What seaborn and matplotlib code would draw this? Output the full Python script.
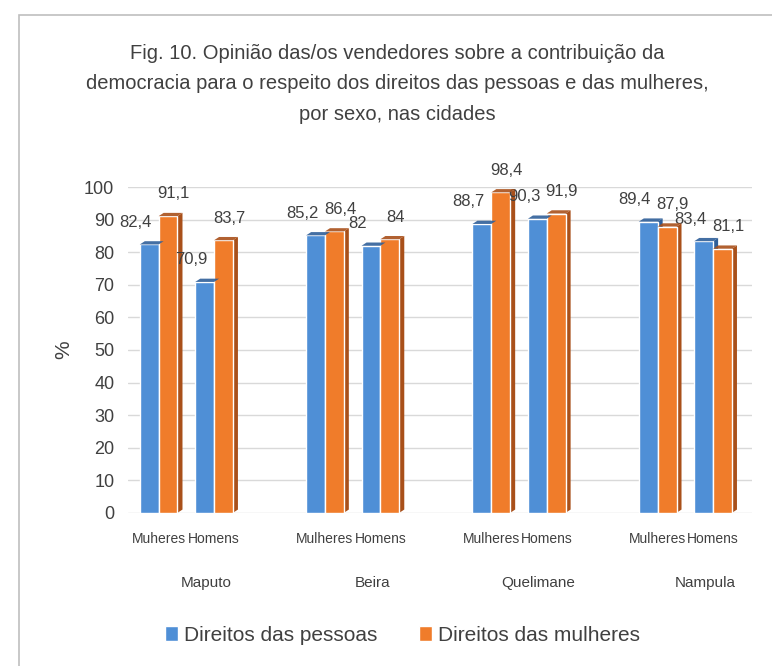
import matplotlib
matplotlib.use("Agg")
import matplotlib.pyplot as plt
from matplotlib.patches import Polygon, Rectangle
import pandas as pd
import seaborn as sns

cities = ["Maputo", "Beira", "Quelimane", "Nampula"]
sexes = ["Muheres", "Homens", "Mulheres", "Homens", "Mulheres", "Homens", "Mulheres", "Homens"]
slots = [0, 1, 3, 4, 6, 7, 9, 10]
pessoas = [82.4, 70.9, 85.2, 82.0, 88.7, 90.3, 89.4, 83.4]
mulheres = [91.1, 83.7, 86.4, 84.0, 98.4, 91.9, 87.9, 81.1]
series = ["Direitos das pessoas", "Direitos das mulheres"]
colors = ["#4F8FD6", "#F07C2A"]
side_colors = ["#2F5F99", "#A9501A"]

df = pd.DataFrame({
    "pos": slots * 2,
    "valor": pessoas + mulheres,
    "serie": [series[0]] * len(slots) + [series[1]] * len(slots),
})

sns.set_style("white")
plt.rcParams["font.family"] = ["Liberation Sans", "DejaVu Sans"]
grey = "#404040"

fig = plt.figure(figsize=(7.72, 6.66), dpi=100)
ax = fig.add_axes([0.166, 0.23, 0.808, 0.489])

sns.barplot(data=df, x="pos", y="valor", hue="serie", hue_order=series,
            palette=colors, native_scale=True, width=0.68, ax=ax,
            saturation=1, legend=True, zorder=3)

# fake 3D side and top faces
dx, dy = 0.09, 1.0
for i, cont in enumerate(ax.containers):
    for bar in cont:
        x0 = bar.get_x()
        x1 = x0 + bar.get_width()
        h = bar.get_height()
        ax.add_patch(Polygon([(x1, 0), (x1 + dx, dy), (x1 + dx, h + dy), (x1, h)],
                             closed=True, color=side_colors[i], zorder=2.5, lw=0))
        ax.add_patch(Polygon([(x0, h), (x0 + dx, h + dy), (x1 + dx, h + dy), (x1, h)],
                             closed=True, color=side_colors[i], zorder=3.5, lw=0, alpha=0.9))

# data labels
for i, cont in enumerate(ax.containers):
    vals = pessoas if i == 0 else mulheres
    for bar, v in zip(cont, vals):
        cx = bar.get_x() + bar.get_width() / 2
        off = -0.24 if i == 0 else 0.1
        txt = f"{v:g}".replace(".", ",")
        ax.text(cx + off, v + 4.5, txt, ha="center", va="bottom", fontsize=12, color=grey)

ax.set_ylim(0, 100)
ax.set_xlim(-0.55, 10.7)
ax.set_yticks(range(0, 101, 10))
ax.tick_params(axis="y", labelsize=13, labelcolor=grey, length=0, pad=10)
ax.set_xticks(slots)
ax.set_xticklabels(sexes, fontsize=10, color=grey)
ax.tick_params(axis="x", length=0, pad=14)
ax.yaxis.grid(True, color="#D9D9D9", lw=1, zorder=0)
for s in ax.spines.values():
    s.set_visible(False)
ax.set_xlabel("")
ax.set_ylabel("%", fontsize=15, color=grey, labelpad=8)

for k, city in enumerate(cities):
    cx = (slots[2 * k] + slots[2 * k + 1]) / 2 + 0.35
    ax.text(cx, -0.215, city, transform=ax.get_xaxis_transform(), ha="center",
            va="center", fontsize=11, color=grey)

ax.legend(loc="upper center", bbox_to_anchor=(0.44, -0.29), ncol=2, frameon=False,
          fontsize=15, handlelength=0.6, handleheight=0.7, handletextpad=0.3,
          columnspacing=2.0, labelcolor=grey)

fig.text(0.515, 0.874,
         "Fig. 10. Opinião das/os vendedores sobre a contribuição da\n"
         "democracia para o respeito dos direitos das pessoas e das mulheres,\n"
         "por sexo, nas cidades",
         ha="center", va="center", fontsize=14.5, color=grey, linespacing=1.75)

fig.patches.append(Rectangle((0.024, -0.05), 1.2, 1.027, transform=fig.transFigure,
                             fill=False, edgecolor="#BFBFBF", lw=1.2))

fig.savefig("out.png", dpi=100)
